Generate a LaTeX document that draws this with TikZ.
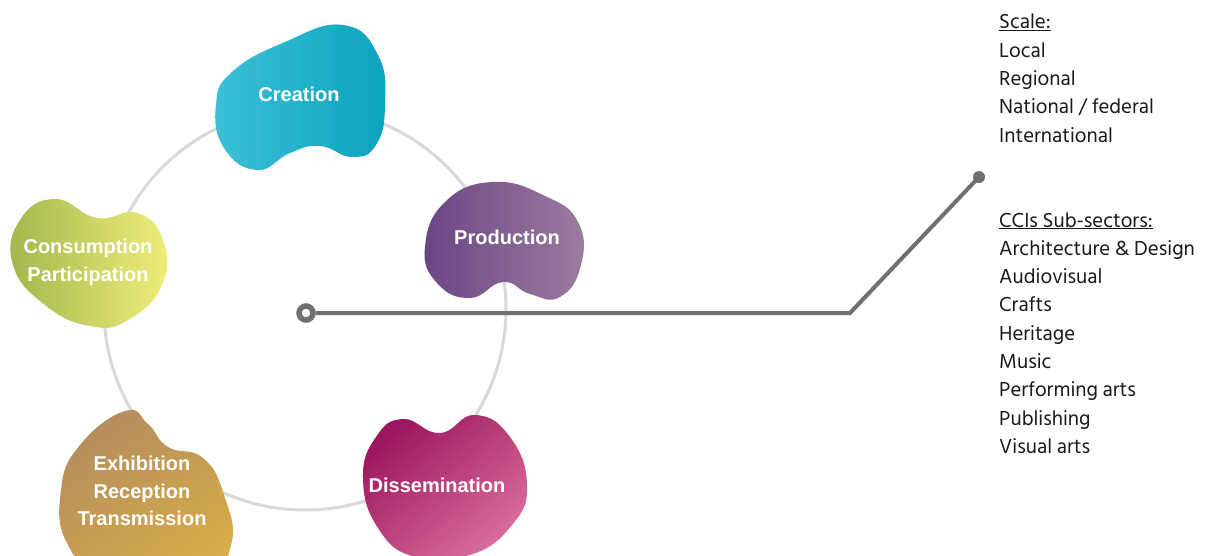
\documentclass[tikz,border=0pt]{standalone}
\usepackage{fontspec}
\setmainfont{Liberation Sans}
\newfontfamily\listfont{Hind Siliguri}
\definecolor{ringgray}{HTML}{D9D9D9}
\definecolor{linegray}{HTML}{707070}
\definecolor{crL}{HTML}{3CC0D6}
\definecolor{crR}{HTML}{0BA3BF}
\definecolor{prL}{HTML}{6A4585}
\definecolor{prR}{HTML}{9C7D9F}
\definecolor{diA}{HTML}{9C175E}
\definecolor{diB}{HTML}{DA6F9D}
\definecolor{exA}{HTML}{B48D5E}
\definecolor{exB}{HTML}{D8AC48}
\definecolor{coL}{HTML}{A2B74E}
\definecolor{coR}{HTML}{F0EE7A}
\definecolor{listtext}{HTML}{1A1A1A}
\begin{document}
\begin{tikzpicture}[x=1pt,y=-1pt,
  lbl/.style={text=white, font=\fontsize{20}{24}\selectfont\bfseries, inner sep=0pt, anchor=base},
  item/.style={text=listtext, font=\listfont\fontsize{20.8}{24}\selectfont, inner sep=0pt, anchor=base west},
  connector/.style={draw=linegray, line width=4pt},
  blob/.style={smooth cycle, tension=0.8}]
\useasboundingbox (0,0) rectangle (1207,556);
\fill[white] (0,0) rectangle (1207,556);
\clip (0,0) rectangle (1207,556);
% cycle circle
\draw[ringgray, line width=3pt] (305,309) circle[radius=201];
% Creation
\shade[left color=crL, right color=crR] plot[blob] coordinates {(343,25) (378,55) (385,105) (376,145) (352,157) (320,146) (290,153) (257,170) (224,148) (216,105) (232,72) (285,42)};
% Production
\shade[left color=prL, right color=prR] plot[blob] coordinates {(493,182) (545,196) (578,222) (581,265) (560,297) (530,294) (503,282) (470,298) (437,283) (425,247) (445,202)};
% Dissemination
\shade[top color=diA, bottom color=diB, shading angle=40] plot[blob] coordinates {(403,419) (440,433) (475,415) (510,437) (527,485) (512,525) (470,555) (415,557) (378,528) (363,478) (376,437)};
% Exhibition
\shade[top color=exA, bottom color=exB, shading angle=35] plot[blob] coordinates {(125,411) (148,424) (168,447) (203,458) (224,495) (231,545) (200,578) (110,578) (68,545) (61,490) (80,445)};
% Consumption
\shade[left color=coL, right color=coR] plot[blob] coordinates {(55,199) (97,218) (137,213) (163,240) (162,285) (128,320) (90,326) (45,305) (13,265) (20,220)};
% labels
\node[lbl] (creation) at (299,102) {Creation};
\node[lbl] (production) at (507,244) {Production};
\node[lbl] (dissemination) at (437,492) {Dissemination};
\node[lbl] (consumption) at (88,253) {Consumption};
\node[lbl] (participation) at (88,281) {Participation};
\node[lbl] (exhibition) at (142,470) {Exhibition};
\node[lbl] (reception) at (142,498) {Reception};
\node[lbl] (transmission) at (142,525) {Transmission};
% connector
\node[circle, draw=linegray, line width=5.5pt, minimum size=14pt, inner sep=0pt] (ring) at (306,313) {};
\coordinate (bend) at (850,313);
\draw[connector] (ring) -- (bend) -- (979,177);
\node[circle, fill=linegray, minimum size=12pt, inner sep=0pt] (dot) at (979,177) {};
% lists
\foreach \t [count=\i] in {\underline{Scale:}, Local, Regional, National / federal, International}
  \node[item] (scale\i) at (999,{29+28.3*(\i-1)}) {\t};
\foreach \t [count=\i] in {\underline{CCIs Sub-sectors:}, Architecture \& Design, Audiovisual, Crafts, Heritage, Music, Performing arts, Publishing, Visual arts}
  \node[item] (sector\i) at (999,{227+28.3*(\i-1)}) {\t};
\end{tikzpicture}
\end{document}
